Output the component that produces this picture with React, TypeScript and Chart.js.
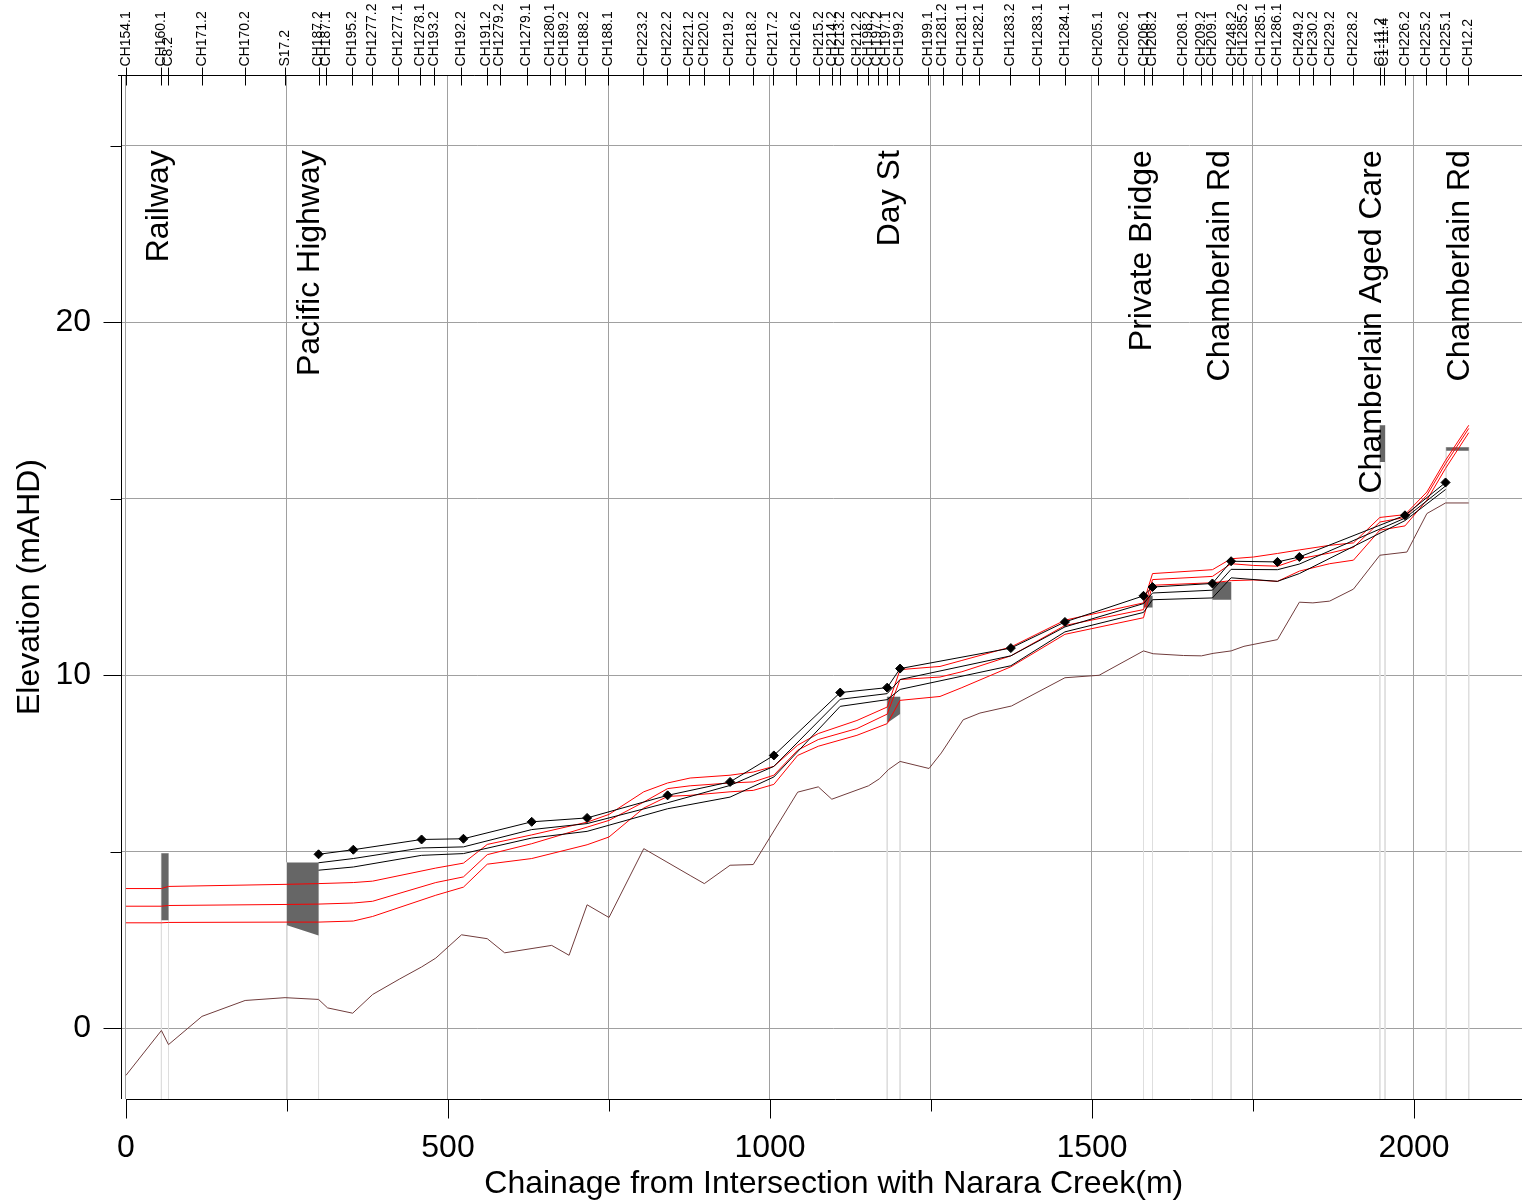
import React, { useEffect, useRef } from "react";
import { Chart, registerables } from "chart.js";

Chart.register(...registerables);

const FONT = "'Liberation Sans', Arial, Helvetica, sans-serif";

// ---------- axes ----------
const xMin = -6.2;
const xMax = 2204.2;
const yMin = -2;
const yMax = 27;
const xTickValues = [0, 250, 500, 750, 1000, 1250, 1500, 1750, 2000];
const xLabelStep = 500;
const yTickValues = [0, 5, 10, 15, 20, 25];
const yLabelStep = 10;
const xTitle = "Chainage from Intersection with Narara Creek(m)";
const yTitle = "Elevation (mAHD)";

// ---------- cross-section stations (top axis) ----------
const stationNames = [
  "CH154.1", "CH160.1", "C8.2", "CH171.2", "CH170.2", "S17.2", "CH187.2", "CH187.1", "CH195.2", "CH1277.2",
  "CH1277.1", "CH1278.1", "CH193.2", "CH192.2", "CH191.2", "CH1279.2", "CH1279.1", "CH1280.1", "CH189.2", "CH188.2",
  "CH188.1", "CH223.2", "CH222.2", "CH221.2", "CH220.2", "CH219.2", "CH218.2", "CH217.2", "CH216.2", "CH215.2",
  "CH214.2", "CH213.2", "CH212.2", "CH198.2", "CH197.2", "CH197.1", "CH199.2", "CH199.1", "CH1281.2", "CH1281.1",
  "CH1282.1", "CH1283.2", "CH1283.1", "CH1284.1", "CH205.1", "CH206.2", "CH206.1", "CH208.2", "CH208.1", "CH209.2",
  "CH209.1", "CH248.2", "CH1285.2", "CH1285.1", "CH1286.1", "CH249.2", "CH230.2", "CH229.2", "CH228.2", "C1-11.2",
  "C1-11.4", "CH226.2", "CH225.2", "CH225.1", "CH12.2",
];
const stationChainages = [
  0, 55, 66, 118, 185, 247, 299, 311, 351, 382,
  423, 457, 479, 520, 560, 580, 622, 658, 681, 712,
  748, 803, 840, 875, 897, 937, 973, 1005, 1041, 1076,
  1096, 1109, 1135, 1152, 1167, 1181, 1201, 1246, 1268, 1298,
  1325, 1373, 1417, 1458, 1510, 1550, 1581, 1593, 1642, 1670,
  1686, 1717, 1735, 1762, 1788, 1822, 1843, 1870, 1905, 1947,
  1953, 1986, 2019, 2050, 2084,
];

// ---------- structures ----------
const structureNames = ["Railway", "Pacific Highway", "Day St", "Private Bridge", "Chamberlain Rd", "Chamberlain Aged Care", "Chamberlain Rd"];
const structureLabelChainages = [66, 299, 1201, 1592, 1713, 1949, 2086];
const structureLabelTop = 24.87;
const structureXs = [
  [55, 55, 66, 66],
  [250, 250, 299, 299],
  [1182, 1182, 1202, 1202],
  [1580, 1580, 1594, 1594],
  [1687, 1687, 1716, 1716],
  [1947, 1947, 1955, 1955],
  [2050, 2050, 2085, 2085],
];
const structureYs = [
  [3.06, 4.96, 4.96, 3.06],
  [2.92, 4.70, 4.70, 2.63],
  [8.65, 9.39, 9.39, 8.90],
  [11.92, 12.25, 12.25, 11.92],
  [12.14, 12.64, 12.64, 12.14],
  [16.04, 17.08, 17.08, 16.04],
  [16.36, 16.46, 16.46, 16.36],
];

// ---------- bed (thalweg) ----------
const bedChainage = [
  0, 55, 66, 118, 185, 247, 299, 313, 352, 383,
  425, 459, 481, 521, 561, 588, 661, 688, 716, 750,
  804, 840, 876, 898, 938, 974, 1043, 1075, 1096, 1153,
  1170, 1184, 1202, 1247, 1266, 1300, 1326, 1375, 1458, 1511,
  1580, 1595, 1642, 1670, 1688, 1716, 1736, 1788, 1822, 1843,
  1869, 1906, 1947, 1989, 2020, 2049, 2085,
];
const bedLevel = [
  -1.33, -0.06, -0.46, 0.34, 0.79, 0.87, 0.82, 0.58, 0.43, 0.96,
  1.40, 1.74, 1.99, 2.65, 2.54, 2.14, 2.35, 2.07, 3.50, 3.14,
  5.09, 4.71, 4.33, 4.10, 4.62, 4.64, 6.69, 6.84, 6.49, 6.87,
  7.07, 7.33, 7.56, 7.36, 7.80, 8.74, 8.93, 9.13, 9.93, 10.0,
  10.69, 10.61, 10.56, 10.55, 10.62, 10.69, 10.82, 11.01, 12.07, 12.05,
  12.10, 12.44, 13.40, 13.49, 14.58, 14.88, 14.88,
];

// ---------- red flood levels ----------
const redChainage = [
  0, 55, 66, 250, 299, 353, 383, 481, 524, 561,
  630, 716, 750, 804, 841, 876, 938, 974, 1006, 1043,
  1075, 1135, 1182, 1202, 1264, 1298, 1374, 1458, 1580, 1594,
  1687, 1716, 1751, 1788, 1822, 1869, 1906, 1947, 1986, 2020,
  2049, 2085,
];
const redLevelA = [
  3.96, 3.96, 4.02, 4.08, 4.10, 4.13, 4.17, 4.54, 4.68, 5.21,
  5.48, 5.84, 6.06, 6.70, 6.95, 7.09, 7.17, 7.26, 7.42, 8.02,
  8.35, 8.72, 9.10, 10.16, 10.25, 10.42, 10.80, 11.56, 12.05, 12.88,
  12.99, 13.30, 13.35, 13.45, 13.55, 13.68, 13.75, 14.47, 14.55, 15.19,
  16.09, 17.08,
];
const redLevelB = [
  3.46, 3.46, 3.48, 3.51, 3.52, 3.55, 3.60, 4.13, 4.29, 4.92,
  5.23, 5.70, 5.89, 6.41, 6.79, 6.87, 6.95, 6.98, 7.17, 7.88,
  8.18, 8.49, 8.90, 9.88, 9.95, 10.10, 10.55, 11.41, 11.86, 12.71,
  12.80, 13.16, 13.11, 13.09, 13.30, 13.46, 13.62, 14.34, 14.47, 15.10,
  15.99, 16.99,
];
const redLevelC = [
  2.99, 2.99, 3.00, 3.01, 3.01, 3.04, 3.17, 3.77, 4.00, 4.65,
  4.81, 5.20, 5.42, 6.24, 6.57, 6.60, 6.70, 6.74, 6.91, 7.73,
  7.99, 8.30, 8.63, 9.29, 9.40, 9.65, 10.24, 11.16, 11.63, 12.55,
  12.62, 12.68, 12.70, 12.66, 12.95, 13.16, 13.26, 14.11, 14.23, 14.96,
  15.86, 16.87,
];

// ---------- black levels ----------
const blackChainage = [
  299, 353, 459, 524, 630, 716, 841, 938, 1006, 1109,
  1182, 1202, 1374, 1458, 1580, 1594, 1687, 1716, 1788, 1822,
  1986, 2049,
];
const blackLevelA = [
  4.93, 5.06, 5.35, 5.37, 5.85, 5.96, 6.60, 6.98, 7.73, 9.51,
  9.65, 10.19, 10.77, 11.51, 12.25, 12.50, 12.60, 13.23, 13.21, 13.35,
  14.53, 15.46,
];
const blackLevelB = [
  4.69, 4.81, 5.11, 5.14, 5.63, 5.80, 6.39, 6.88, 7.42, 9.32,
  9.48, 9.88, 10.55, 11.37, 12.03, 12.33, 12.41, 13.00, 12.99, 13.15,
  14.45, 15.36,
];
const blackLevelC = [
  4.48, 4.57, 4.90, 4.95, 5.39, 5.58, 6.22, 6.55, 7.12, 9.12,
  9.31, 9.60, 10.27, 11.23, 11.78, 12.14, 12.19, 12.76, 12.66, 12.88,
  14.38, 15.26,
];

const toPts = (xs: number[], ys: number[]) => xs.map((x, i) => ({ x, y: ys[i] }));

function buildDatasets(): any[] {
  const ds: any[] = [];
  // faint vertical guide lines at structure edges
  structureXs.forEach((xs, i) => {
    const top = Math.max(...structureYs[i]);
    Array.from(new Set(xs)).forEach((x) => {
      ds.push({
        data: [{ x, y: top }, { x, y: yMin }],
        borderColor: "#dedede",
        borderWidth: 1,
        pointRadius: 0,
        fill: false,
        order: 20,
      });
    });
  });
  // structures
  structureXs.forEach((xs, i) => {
    ds.push({
      data: toPts(xs, structureYs[i]),
      borderColor: "rgba(0,0,0,0)",
      backgroundColor: "#666666",
      borderWidth: 1,
      pointRadius: 0,
      fill: "shape",
      order: 15,
    });
  });
  ds.push({ data: toPts(bedChainage, bedLevel), borderColor: "#703c3c", borderWidth: 1, pointRadius: 0, fill: false, order: 10 });
  [redLevelA, redLevelB, redLevelC].forEach((lv) => {
    ds.push({ data: toPts(redChainage, lv), borderColor: "#ff0000", borderWidth: 1, pointRadius: 0, fill: false, order: 8 });
  });
  [blackLevelC, blackLevelB].forEach((lv) => {
    ds.push({ data: toPts(blackChainage, lv), borderColor: "#000000", borderWidth: 1, pointRadius: 0, fill: false, order: 6 });
  });
  ds.push({
    data: toPts(blackChainage, blackLevelA),
    borderColor: "#000000",
    borderWidth: 1,
    pointRadius: 4.5,
    pointStyle: "rectRot",
    pointBackgroundColor: "#000000",
    pointBorderColor: "#000000",
    pointBorderWidth: 1,
    fill: false,
    order: 4,
  });
  return ds;
}

const decorPlugin = {
  id: "decor",
  afterDraw(chart: any) {
    const ctx = chart.ctx as CanvasRenderingContext2D;
    const xs = chart.scales.x;
    const ys = chart.scales.y;
    const a = chart.chartArea;
    ctx.save();
    ctx.strokeStyle = "#000";
    ctx.lineWidth = 1;

    // left axis line + ticks
    const axX = Math.round(a.left) - 0.5;
    ctx.beginPath();
    ctx.moveTo(axX, a.top);
    ctx.lineTo(axX, a.bottom);
    yTickValues.forEach((v) => {
      const py = Math.round(ys.getPixelForValue(v)) + 0.5;
      const len = v % yLabelStep === 0 ? 18 : 11;
      ctx.moveTo(axX - len, py);
      ctx.lineTo(axX, py);
    });
    ctx.stroke();

    // bottom axis line + ticks
    const axY = Math.round(a.bottom) + 0.5;
    ctx.beginPath();
    ctx.moveTo(xs.getPixelForValue(xTickValues[0]), axY);
    ctx.lineTo(a.right, axY);
    xTickValues.forEach((v) => {
      const px = Math.round(xs.getPixelForValue(v)) + 0.5;
      const len = v % xLabelStep === 0 ? 19 : 12;
      ctx.moveTo(px, axY);
      ctx.lineTo(px, axY + len);
    });
    ctx.stroke();

    // top axis: stations
    const topY = Math.round(a.top) + 0.5;
    ctx.beginPath();
    ctx.moveTo(a.left - 4, topY);
    ctx.lineTo(a.right, topY);
    stationChainages.forEach((c) => {
      const px = Math.round(xs.getPixelForValue(c)) + 0.5;
      ctx.moveTo(px, topY - 8);
      ctx.lineTo(px, topY + 10);
    });
    ctx.stroke();

    ctx.fillStyle = "#000";
    ctx.font = `14px ${FONT}`;
    ctx.textAlign = "left";
    ctx.textBaseline = "middle";
    stationNames.forEach((name, i) => {
      const px = xs.getPixelForValue(stationChainages[i]);
      ctx.save();
      ctx.translate(px, topY - 9);
      ctx.rotate(-Math.PI / 2);
      ctx.fillText(name, 0, 0);
      ctx.restore();
    });

    // structure names
    ctx.font = `32px ${FONT}`;
    ctx.textAlign = "right";
    ctx.textBaseline = "alphabetic";
    structureNames.forEach((name, i) => {
      const px = xs.getPixelForValue(structureLabelChainages[i]);
      const py = ys.getPixelForValue(structureLabelTop);
      ctx.save();
      ctx.translate(px, py);
      ctx.rotate(-Math.PI / 2);
      ctx.fillText(name, 0, 0);
      ctx.restore();
    });
    ctx.restore();
  },
};

export default function App() {
  const ref = useRef<HTMLCanvasElement>(null);
  useEffect(() => {
    const canvas = ref.current;
    if (!canvas) return;
    const chart = new Chart(canvas, {
      type: "line",
      data: { datasets: buildDatasets() },
      options: {
        animation: false,
        responsive: false,
        devicePixelRatio: 1,
        events: [],
        layout: { padding: { top: 75, left: 0, right: 0, bottom: 0 } },
        plugins: { legend: { display: false }, tooltip: { enabled: false }, title: { display: false } },
        elements: { line: { tension: 0 } },
        scales: {
          x: {
            type: "linear",
            position: "bottom",
            min: xMin,
            max: xMax,
            afterBuildTicks: (s: any) => {
              s.ticks = xTickValues.map((v) => ({ value: v }));
            },
            afterFit: (s: any) => {
              s.height = 104;
            },
            grid: { color: "#a0a0a0", lineWidth: 1, drawTicks: false },
            border: { display: false },
            ticks: {
              autoSkip: false,
              maxRotation: 0,
              minRotation: 0,
              padding: 30,
              color: "#000",
              font: { family: FONT, size: 32 },
              callback: (v: any) => (Number(v) % xLabelStep === 0 ? String(v) : ""),
            },
            title: {
              display: true,
              text: xTitle,
              color: "#000",
              font: { family: FONT, size: 32 },
              padding: { top: 0, bottom: 0 },
            },
          },
          y: {
            type: "linear",
            position: "left",
            min: yMin,
            max: yMax,
            afterBuildTicks: (s: any) => {
              s.ticks = yTickValues.map((v) => ({ value: v }));
            },
            afterFit: (s: any) => {
              s.width = 122;
            },
            grid: { color: "#a0a0a0", lineWidth: 1, drawTicks: false },
            border: { display: false },
            ticks: {
              padding: 31,
              color: "#000",
              font: { family: FONT, size: 32 },
              callback: (v: any) => (Number(v) % yLabelStep === 0 ? String(v) : ""),
            },
            title: {
              display: true,
              text: yTitle,
              color: "#000",
              font: { family: FONT, size: 32 },
              padding: { top: 11, bottom: 0 },
            },
          },
        },
      } as any,
      plugins: [decorPlugin],
    });
    return () => chart.destroy();
  }, []);

  return (
    <div
      style={{
        position: "absolute",
        left: 0,
        top: 0,
        width: 1522,
        height: 1203,
        overflow: "hidden",
        background: "#ffffff",
      }}
    >
      <canvas ref={ref} width={1551} height={1203} style={{ display: "block", width: 1551, height: 1203 }} />
    </div>
  );
}
